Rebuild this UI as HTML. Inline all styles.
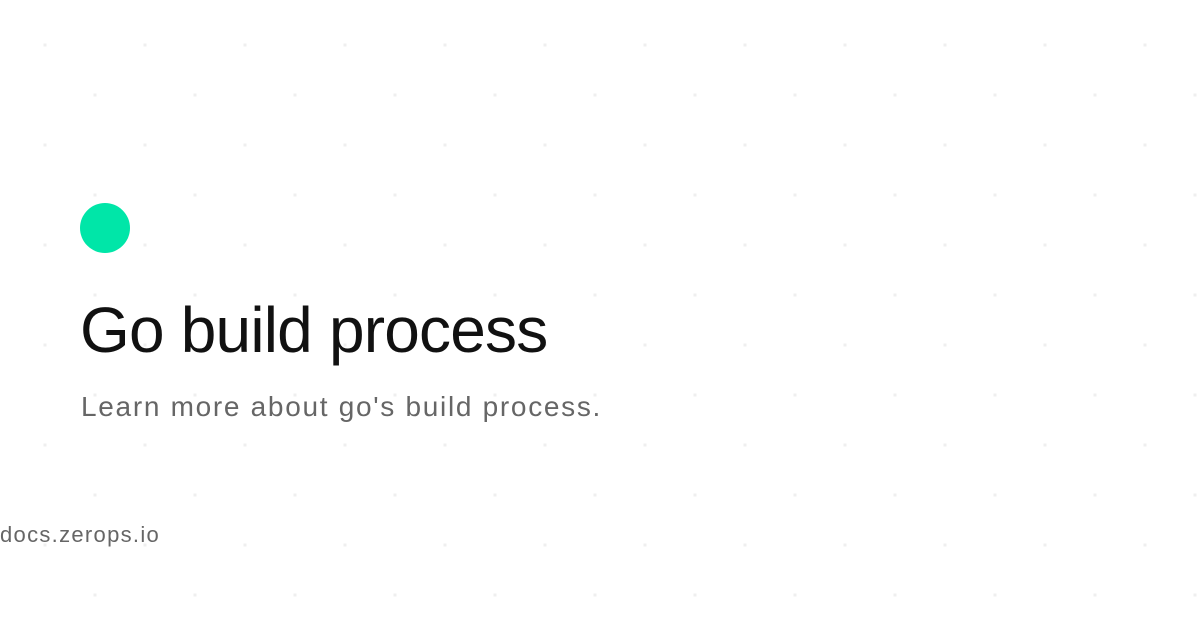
<!DOCTYPE html>
<html><head><style>
html,body{margin:0;padding:0;}
body{width:1200px;height:630px;position:relative;overflow:hidden;background:#fff;font-family:"Liberation Sans",sans-serif;}
.bg{position:absolute;left:0;top:0;}
.dot{position:absolute;left:80px;top:203px;width:50px;height:50px;border-radius:50%;background:#00e6a8;}
.t{position:absolute;left:80px;top:290px;font-size:64px;color:#111;white-space:nowrap;line-height:80px;letter-spacing:-0.8px;}
.s{position:absolute;left:81px;top:389px;font-size:28px;color:#666;white-space:nowrap;line-height:36px;letter-spacing:1.7px;}
.d{position:absolute;left:0;top:520px;font-size:22px;color:#666;white-space:nowrap;line-height:30px;letter-spacing:1.3px;}
</style></head><body>
<svg class="bg" width="1200" height="630">
<defs><pattern id="p" width="100" height="100" patternUnits="userSpaceOnUse">
<rect x="43.5" y="43.5" width="3" height="3" fill="#efefef"/>
<rect x="93.5" y="93.5" width="3" height="3" fill="#efefef"/>
</pattern></defs>
<rect width="1200" height="630" fill="url(#p)"/>
</svg>
<div class="dot"></div>
<div class="t">Go build process</div>
<div class="s">Learn more about go's build process.</div>
<div class="d">docs.zerops.io</div>
</body></html>
